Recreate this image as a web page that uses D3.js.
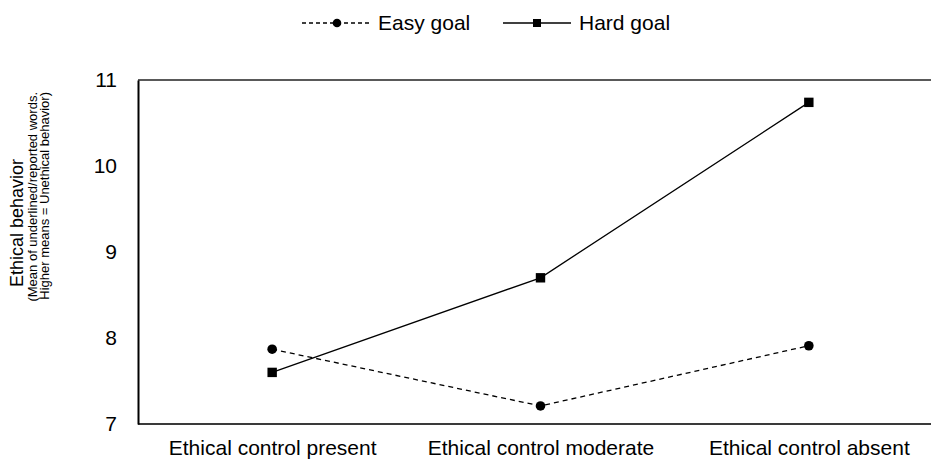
<!DOCTYPE html>
<html>
<head>
<meta charset="utf-8">
<script src="https://cdn.jsdelivr.net/npm/d3@7"></script>
<style>
  body { margin: 0; background: #fff; }
  svg { display: block; font-family: Arial, "Liberation Sans", sans-serif; }
</style>
</head>
<body>
<svg id="chart" width="931" height="459"></svg>
<script>
const categories = ["Ethical control present", "Ethical control moderate", "Ethical control absent"];
const easyGoal = [7.87, 7.21, 7.91];
const hardGoal = [7.60, 8.70, 10.74];
const yTicks = [7, 8, 9, 10, 11];
const seriesNames = ["Easy goal", "Hard goal"];

(function () {
const svg = d3.select("#chart");
const mLeft = 138, mRight = 943, mTop = 80, mBottom = 424;
const FONT = "Arial, 'Liberation Sans', sans-serif";

const x = d3.scalePoint().domain(categories).range([mLeft, mRight]).padding(0.5);
const y = d3.scaleLinear().domain([7, 11]).range([mBottom, mTop]);

// frame lines
svg.append("line").attr("x1", mLeft).attr("x2", 931).attr("y1", mTop).attr("y2", mTop)
  .attr("stroke", "#595959").attr("stroke-width", 2);
svg.append("line").attr("x1", mLeft).attr("x2", 931).attr("y1", mBottom).attr("y2", mBottom)
  .attr("stroke", "#3a3a3a").attr("stroke-width", 2);

// y axis
const yAxis = d3.axisLeft(y).tickValues(yTicks).tickSize(0).tickPadding(21).tickFormat(d3.format("d"));
const yg = svg.append("g").attr("transform", `translate(${mLeft},0)`).call(yAxis);
yg.select(".domain").attr("stroke", "#000").attr("stroke-width", 2);
yg.selectAll("text").attr("font-size", 21).attr("fill", "#000").attr("font-family", FONT);

// x axis labels
const xAxis = d3.axisBottom(x).tickSize(0).tickPadding(16);
const xg = svg.append("g").attr("transform", `translate(0,${mBottom})`).call(xAxis);
xg.select(".domain").remove();
xg.selectAll("text").attr("font-size", 21).attr("fill", "#000").attr("font-family", FONT);

// y axis title
const yt = svg.append("g").attr("transform", "translate(23,223) rotate(-90)");
yt.append("text").attr("text-anchor", "middle").attr("font-size", 18).attr("fill", "#000").text("Ethical behavior");
const ys = svg.append("g").attr("transform", "translate(0,92) rotate(-90)");
ys.append("text").attr("x", 0).attr("y", 37).attr("text-anchor", "end").attr("font-size", 13).attr("fill", "#000")
  .text("(Mean of underlined/reported words.");
ys.append("text").attr("x", 0).attr("y", 49).attr("text-anchor", "end").attr("font-size", 13).attr("fill", "#000")
  .text("Higher means = Unethical behavior)");

// lines
const line = d3.line().x((d, i) => x(categories[i])).y(d => y(d));
svg.append("path").datum(easyGoal).attr("d", line).attr("fill", "none")
  .attr("stroke", "#000").attr("stroke-width", 1.3).attr("stroke-dasharray", "5,4");
svg.append("path").datum(hardGoal).attr("d", line).attr("fill", "none")
  .attr("stroke", "#000").attr("stroke-width", 1.3);

svg.selectAll("circle.easy").data(easyGoal).enter().append("circle").attr("class", "easy")
  .attr("cx", (d, i) => x(categories[i])).attr("cy", d => y(d)).attr("r", 4.8).attr("fill", "#000");
svg.selectAll("rect.hard").data(hardGoal).enter().append("rect").attr("class", "hard")
  .attr("x", (d, i) => x(categories[i]) - 4.7).attr("y", d => y(d) - 4.7)
  .attr("width", 9.4).attr("height", 9.4).attr("fill", "#000");

// legend
const ly = 23;
const leg = svg.append("g");
leg.append("line").attr("x1", 302).attr("x2", 369).attr("y1", ly).attr("y2", ly)
  .attr("stroke", "#000").attr("stroke-width", 1.3).attr("stroke-dasharray", "4,3");
leg.append("circle").attr("cx", 337).attr("cy", ly).attr("r", 4.3).attr("fill", "#000");
leg.append("text").attr("x", 378).attr("y", ly).attr("dy", "0.35em").attr("font-size", 21).attr("fill", "#000").attr("font-family", FONT).text(seriesNames[0]);
leg.append("line").attr("x1", 503).attr("x2", 571).attr("y1", ly).attr("y2", ly)
  .attr("stroke", "#000").attr("stroke-width", 1.3);
leg.append("rect").attr("x", 533).attr("y", ly - 4).attr("width", 8).attr("height", 8).attr("fill", "#000");
leg.append("text").attr("x", 579).attr("y", ly).attr("dy", "0.35em").attr("font-size", 21).attr("fill", "#000").attr("font-family", FONT).text(seriesNames[1]);
})();
</script>
</body>
</html>
